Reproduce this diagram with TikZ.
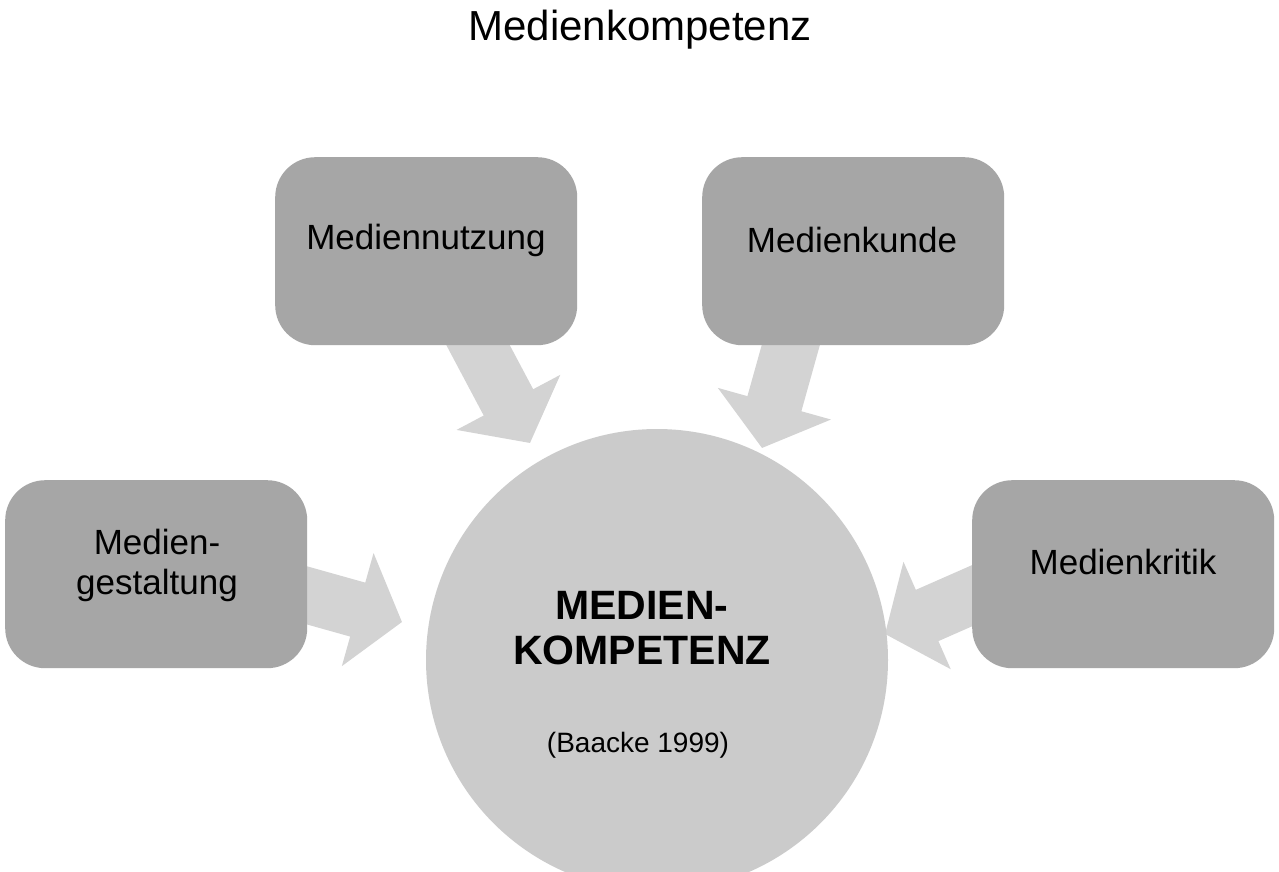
\documentclass[tikz,border=0pt]{standalone}
\usepackage{fontspec}
\setmainfont{Liberation Sans}
\usetikzlibrary{arrows.meta}
\begin{document}
\begin{tikzpicture}[x=1pt,y=-1pt,
  box/.style={fill=boxgray,rounded corners=40pt,minimum width=302pt,minimum height=188pt,inner sep=0pt,anchor=north west},
  lbl/.style={align=center,font=\fontsize{35}{40}\selectfont},
  barrow/.style={draw=arrgray,line width=56pt,-{Triangle[width=115pt,length=46pt]}}]
\definecolor{boxgray}{HTML}{A6A6A6}
\definecolor{circgray}{HTML}{CBCBCB}
\definecolor{arrgray}{HTML}{D3D3D3}
\clip (0,0) rectangle (1279,871);
\fill[white] (0,0) rectangle (1279,871);
\node[font=\fontsize{42}{48}\selectfont] (title) at (640,30) {Medienkompetenz};
\coordinate (a1s) at (470,330); \coordinate (a1e) at (530,443);
\coordinate (a2s) at (795,330); \coordinate (a2e) at (762,448);
\coordinate (a3s) at (295,592); \coordinate (a3e) at (402,622);
\coordinate (a4s) at (985,590); \coordinate (a4e) at (885,634);
\draw[barrow] (a1s) -- (a1e);
\draw[barrow] (a2s) -- (a2e);
\draw[barrow] (a3s) -- (a3e);
\draw[barrow] (a4s) -- (a4e);
\node[box] (nutz) at (275,157) {};
\node[box] (kunde) at (702,157) {};
\node[box] (gest) at (5,480) {};
\node[box] (krit) at (972,480) {};
\node[lbl] at (426,240) {Mediennutzung};
\node[lbl] at (852,240) {Medienkunde};
\node[lbl] at (157,565) {Medien-\\gestaltung};
\node[lbl] at (1123,562) {Medienkritik};
\fill[circgray] (657,660) circle (231);
\node[align=center,font=\bfseries\fontsize{41}{45}\selectfont] (mk) at (642,628) {MEDIEN-\\KOMPETENZ};
\node[font=\fontsize{28}{32}\selectfont] (baacke) at (638,745) {(Baacke 1999)};
\end{tikzpicture}
\end{document}
